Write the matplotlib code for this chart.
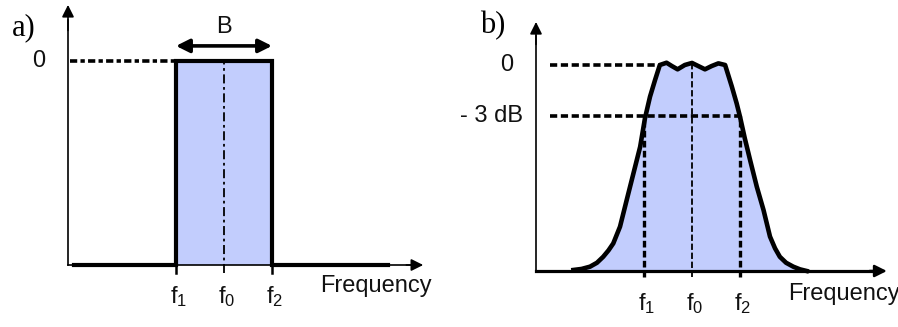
import matplotlib
matplotlib.use("Agg")
import matplotlib.pyplot as plt
import numpy as np

plt.rcParams['font.family'] = ['Liberation Sans', 'DejaVu Sans']
plt.rcParams['mathtext.fontset'] = 'custom'
plt.rcParams['mathtext.rm'] = 'Liberation Sans'

# ---------------- data ----------------
# normalised frequency: f1=-1, f0=0, f2=+1 ; response: 0 level = 1.0
freq_a = [-3.125, -1.0, -1.0, 1.0, 1.0, 3.42]
resp_a = [0.0, 0.0, 1.0, 1.0, 0.0, 0.0]

freq_b = [-2.47, -2.3, -2.125, -1.98, -1.85, -1.74, -1.64, -1.5, -1.36, -1.22,
          -1.08, -0.98, -0.875, -0.77, -0.67, -0.53, -0.42, -0.30, -0.15, 0.0,
          0.13, 0.27, 0.41, 0.55, 0.69, 0.83, 0.93, 1.0, 1.10, 1.21, 1.35, 1.49,
          1.625, 1.73, 1.83, 1.96, 2.11, 2.25, 2.39]
resp_b = [0.005, 0.01, 0.021, 0.04, 0.069, 0.1, 0.134, 0.215, 0.345, 0.474,
          0.603, 0.741, 0.846, 0.927, 1.0, 1.011, 0.995, 0.979, 1.0, 1.01,
          0.995, 0.979, 0.995, 1.008, 1.0, 0.895, 0.814, 0.749, 0.644, 0.539,
          0.409, 0.296, 0.167, 0.11, 0.069, 0.04, 0.021, 0.008, 0.0]

tick_pos = [-1.0, 0.0, 1.0]
tick_labels = ['$\\mathregular{f_1}$', '$\\mathregular{f_0}$', '$\\mathregular{f_2}$']
level_0 = 1.0
level_3db = 0.75
panel_labels = ['a)', 'b)']
level_labels_a = ['0']
level_labels_b = ['0', '- 3 dB']

FILL = '#c2cdfd'
W, H = 898, 327

fig = plt.figure(figsize=(W / 100, H / 100), dpi=100)
fig.patch.set_facecolor('white')


def place(x0px, sx, y0px, sy, xlim, ylim):
    left = x0px + sx * xlim[0]
    right = x0px + sx * xlim[1]
    top = y0px - sy * ylim[1]
    bottom = y0px - sy * ylim[0]
    ax = fig.add_axes([left / W, 1 - bottom / H, (right - left) / W, (bottom - top) / H])
    ax.set_xlim(*xlim)
    ax.set_ylim(*ylim)
    ax.axis('off')
    return ax


def arrow(ax, start, end, lw=1.2, ms=18, style='-|>'):
    ax.annotate('', xy=end, xytext=start, annotation_clip=False,
                arrowprops=dict(arrowstyle=style, lw=lw, color='black',
                                mutation_scale=ms, shrinkA=0, shrinkB=0))


TXT = dict(fontsize=17, color='#111111', clip_on=False)
SERIF = dict(fontsize=22, color='black', family='Liberation Serif', clip_on=False)

# ---------------- panel a ----------------
axa = place(224, 48, 265, 204, (-3.4, 4.3), (-0.28, 1.29))
axa.fill_between(freq_a[1:5], resp_a[1:5], 0, color=FILL, lw=0, zorder=1)
# axes
axa.plot([-3.25, -3.25], [0, 1.2], color='black', lw=1.2, zorder=3)
arrow(axa, (-3.25, 1.15), (-3.25, 1.275))
axa.plot([-3.25, 3.9], [0, 0], color='black', lw=1.2, zorder=3)
arrow(axa, (3.8, 0), (4.15, 0))
# response
axa.plot(freq_a, resp_a, color='black', lw=3.0, solid_joinstyle='miter', zorder=4)
# reference lines
axa.plot([-3.21, -1.0], [level_0, level_0], color='black', lw=2.6,
         ls=(0, (2.0, 0.9, 1.2, 0.9)), zorder=3)
axa.plot([0, 0], [-0.04, level_0], color='black', lw=1.3,
         ls=(0, (5, 2, 1.5, 2)), zorder=3)
for p in [-1.0, 1.0]:
    axa.plot([p, p], [-0.04, 0], color='black', lw=1.8, zorder=3)
# bandwidth arrow
arrow(axa, (-1.0, 1.074), (1.0, 1.074), lw=2.6, ms=20, style='<|-|>')
axa.text(0, 1.167, 'B', ha='center', va='center', **TXT)
axa.text(-3.73, level_0, level_labels_a[0], ha='right', va='center', **TXT)
for p, lab in zip(tick_pos, tick_labels):
    axa.text(p + 0.05, -0.188, lab, ha='center', va='baseline', **TXT)
axa.text(2.0, -0.132, 'Frequency', ha='left', va='baseline', **TXT)
axa.text(-4.42, 1.127, panel_labels[0], ha='left', va='baseline', **SERIF)

# ---------------- panel b ----------------
axb = place(692, 48, 271, 206, (-3.4, 4.25), (-0.27, 1.24))
axb.fill_between(freq_b, resp_b, 0, color=FILL, lw=0, zorder=1)
axb.plot([-3.25, -3.25], [0, 1.14], color='black', lw=1.2, zorder=3)
arrow(axb, (-3.25, 1.1), (-3.25, 1.209))
axb.plot([-3.25, 3.8], [0, 0], color='black', lw=2.3, zorder=3)
arrow(axb, (3.7, 0), (4.06, 0), lw=1.8)
axb.plot(freq_b, resp_b, color='black', lw=3.3, solid_joinstyle='round', zorder=4)
# reference lines
axb.plot([-2.96, -0.67], [level_0, level_0], color='black', lw=2.6,
         ls=(0, (2.0, 1.0)), zorder=3)
axb.plot([-2.96, 1.0], [level_3db, level_3db], color='black', lw=2.6,
         ls=(0, (2.0, 1.0)), zorder=3)
for p in [-1.0, 1.0]:
    axb.plot([p, p], [-0.03, level_3db], color='black', lw=2.4,
             ls=(0, (2.0, 1.0)), zorder=3)
axb.plot([0, 0], [-0.03, level_0], color='black', lw=1.3,
         ls=(0, (3.5, 1.5)), zorder=3)
axb.text(-3.73, level_0, level_labels_b[0], ha='right', va='center', **TXT)
axb.text(-3.52, level_3db, level_labels_b[1], ha='right', va='center', **TXT)
for p, lab in zip(tick_pos, tick_labels):
    axb.text(p + 0.05, -0.189, lab, ha='center', va='baseline', **TXT)
axb.text(2.0, -0.141, 'Frequency', ha='left', va='baseline', **TXT)
axb.text(-4.42, 1.155, panel_labels[1], ha='left', va='baseline', **SERIF)

fig.savefig('out.png', dpi=100, facecolor='white')
